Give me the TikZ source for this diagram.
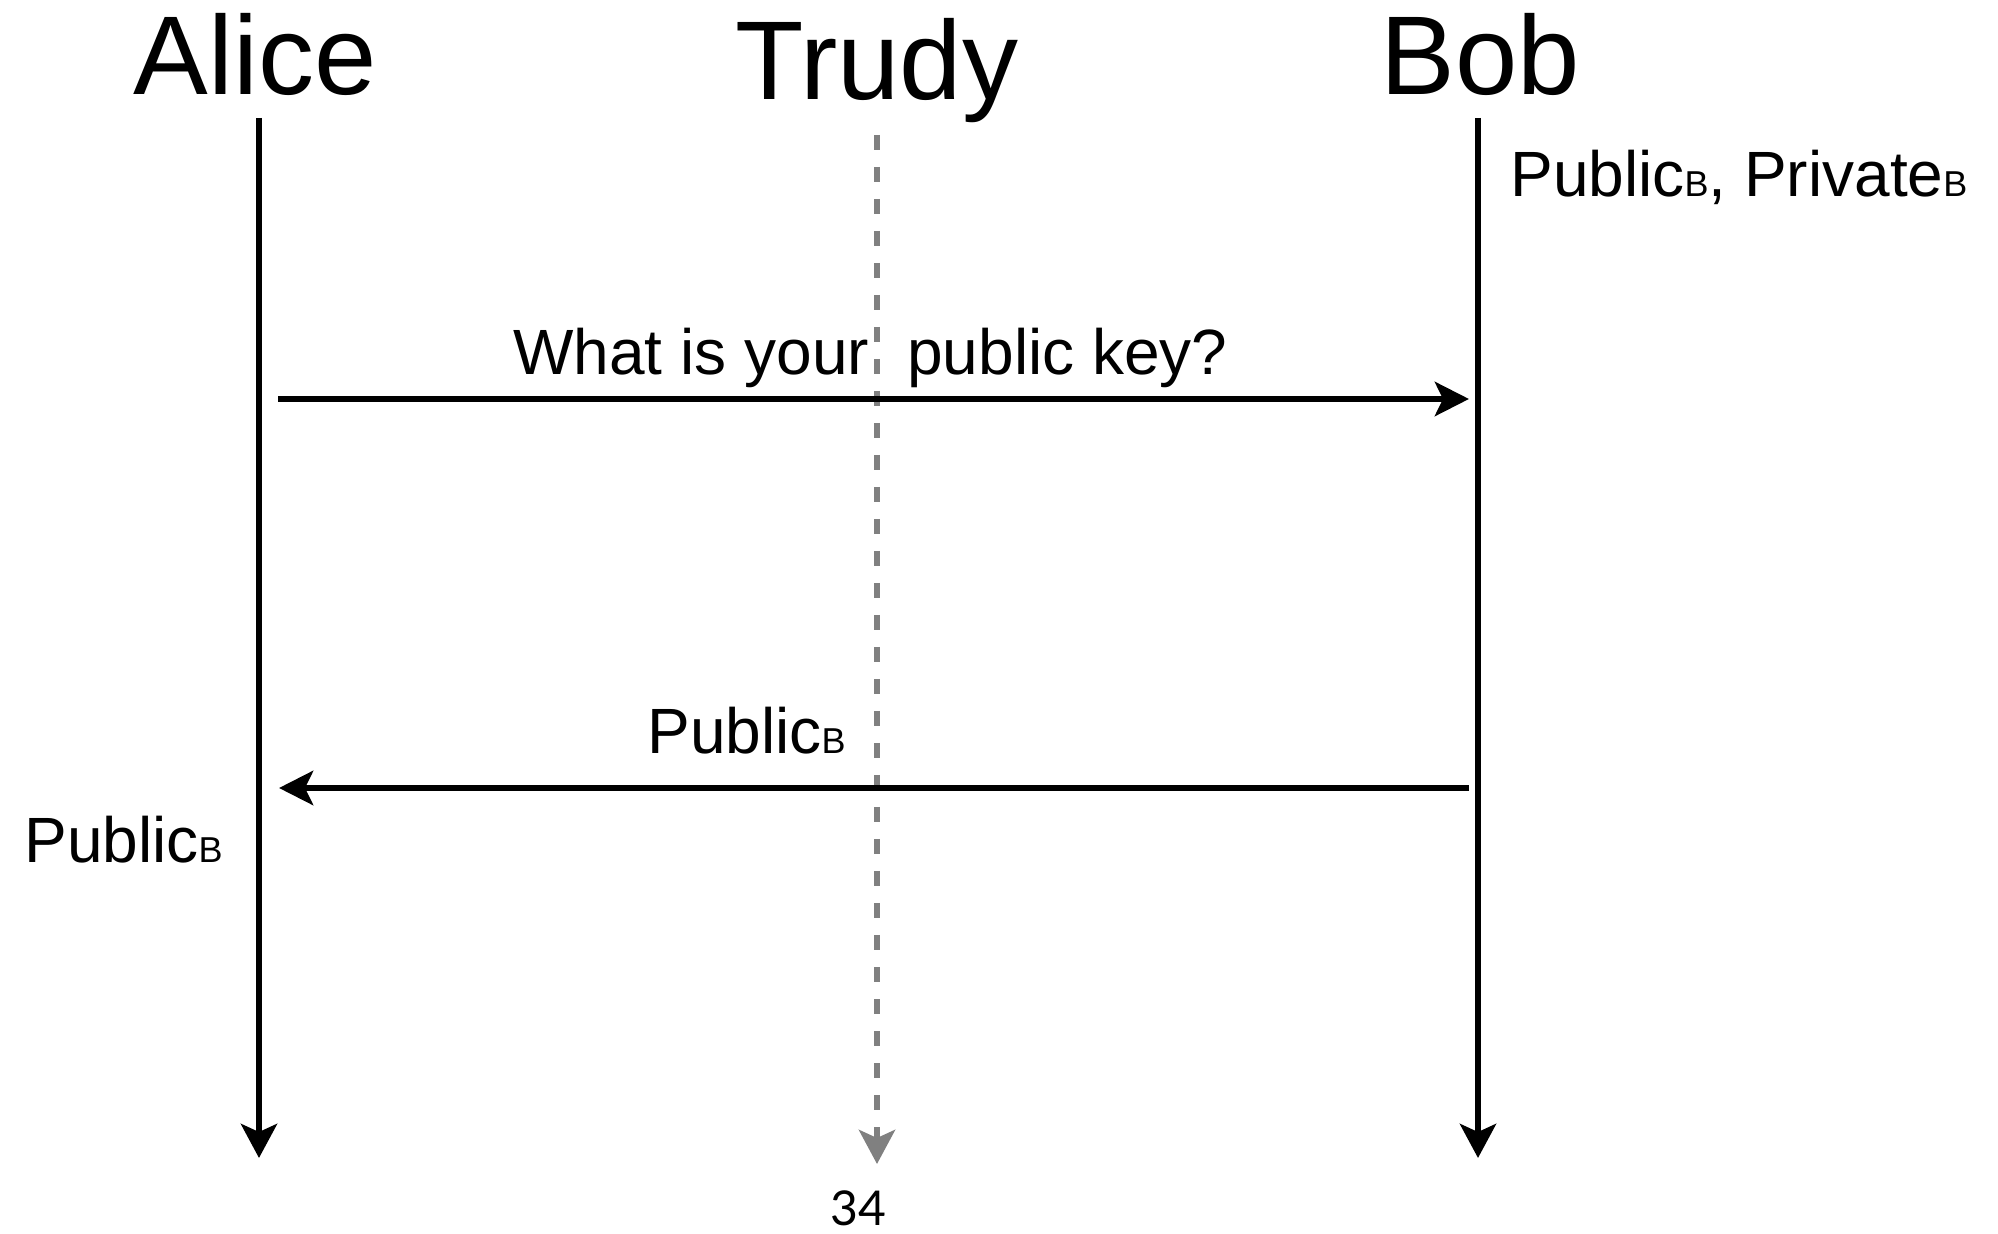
\documentclass[tikz,border=0pt]{standalone}
\usepackage{fontspec}
\setmainfont{Liberation Sans}
\newfontfamily\pagenumfont{Lato}
\usetikzlibrary{arrows.meta}
\newcommand{\keysub}[1]{{\fontsize{18}{18}\selectfont #1}}
\begin{document}
\begin{tikzpicture}[x=0.5pt,y=-0.5pt,
  party/.style={inner sep=0pt,anchor=base,font=\fontsize{56}{64}\selectfont},
  msg/.style={inner sep=0pt,anchor=base west,font=\fontsize{32}{38}\selectfont},
  lifeline/.style={line width=3pt,-{Stealth[length=17pt,width=18pt,inset=4pt]}},
  spyline/.style={line width=3pt,draw=black!50,dash pattern=on 7.5pt off 8.5pt,
    -{Stealth[length=17pt,width=18pt,inset=4pt]}},
  message/.style={line width=3.4pt,-{Stealth[length=17pt,width=17pt,inset=4pt]}}]
\useasboundingbox (0,0) rectangle (1998,1234);

% participants
\node[party] (alice) at (255,95) {Alice};
\node[party] (trudy) at (877,100) {Trudy};
\node[party] (bob)   at (1480,95) {Bob};

% lifelines
\coordinate (aTop) at (259,118);  \coordinate (aEnd) at (259,1158);
\coordinate (tTop) at (877,135);  \coordinate (tEnd) at (877,1164);
\coordinate (bTop) at (1478,118); \coordinate (bEnd) at (1478,1158);
\draw[lifeline] (aTop) -- (aEnd);
\draw[lifeline] (bTop) -- (bEnd);
\draw[spyline]  (tTop) -- (tEnd);

% messages
\coordinate (m1s) at (278,399);  \coordinate (m1e) at (1469,399);
\coordinate (m2s) at (1469,788); \coordinate (m2e) at (279,788);
\draw[message] (m1s) -- (m1e);
\draw[message] (m2s) -- (m2e);

% labels
\node[msg] (bobkeys) at (1510,197) {Public\keysub{B}, Private\keysub{B}};
\node[msg] (ask) at (513,375) {What is your\hspace{0.6em}public key?};
\node[msg] (reply) at (647,754) {Public\keysub{B}};
\node[msg] (alicekey) at (24,863) {Public\keysub{B}};

% page number
\node[inner sep=0pt,font=\pagenumfont\fontsize{24}{28}\selectfont] (pagenum) at (858,1208) {34};
\end{tikzpicture}
\end{document}
